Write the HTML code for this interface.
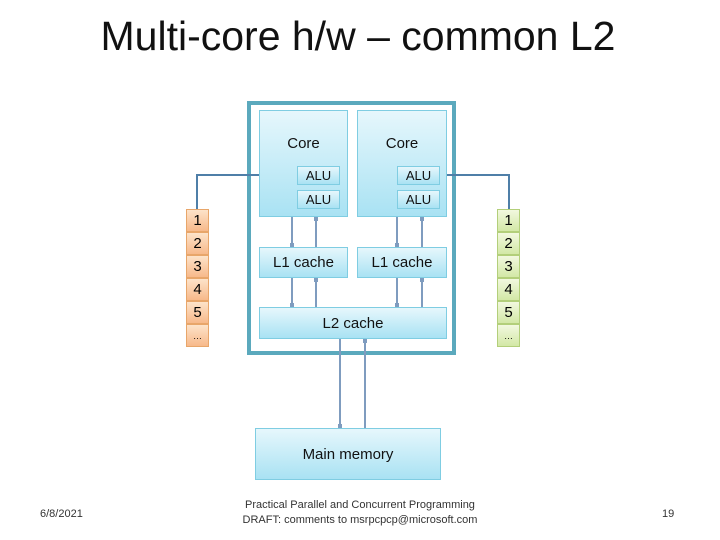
<!DOCTYPE html>
<html><head><meta charset="utf-8"><style>
body{margin:0;width:720px;height:540px;background:#fff;font-family:"Liberation Sans",sans-serif;position:relative;overflow:hidden}
.a{position:absolute}
.b{position:absolute;box-sizing:border-box;border:1px solid #7fcde2;background:linear-gradient(#e6f7fc,#a9e2f3);display:flex;align-items:center;justify-content:center;color:#111}
.c{position:absolute;box-sizing:border-box;width:23px;height:23px;display:flex;align-items:center;justify-content:center;font-size:15px}
.o{border:1px solid #e8a66a;background:linear-gradient(#fde3c9,#f7b98a)}
.g{border:1px solid #b3cf7a;background:linear-gradient(#f2f8df,#d3e8a6)}
</style></head><body>
<div class="a" style="left:0;top:13px;width:716px;text-align:center;font-size:41px;color:#111">Multi-core h/w – common L2</div>
<div class="a" style="left:247px;top:101px;width:209px;height:254px;box-sizing:border-box;border:4px solid #5ba9bd"></div>
<div class="b" style="left:259px;top:110px;width:89px;height:107px;align-items:flex-start;padding-top:24px;font-size:15px">Core</div>
<div class="b" style="left:357px;top:110px;width:90px;height:107px;align-items:flex-start;padding-top:24px;font-size:15px">Core</div>
<div class="b" style="left:297px;top:166px;width:43px;height:19px;font-size:13px">ALU</div>
<div class="b" style="left:297px;top:190px;width:43px;height:19px;font-size:13px">ALU</div>
<div class="b" style="left:397px;top:166px;width:43px;height:19px;font-size:13px">ALU</div>
<div class="b" style="left:397px;top:190px;width:43px;height:19px;font-size:13px">ALU</div>
<div class="b" style="left:259px;top:247px;width:89px;height:31px;font-size:15px">L1 cache</div>
<div class="b" style="left:357px;top:247px;width:90px;height:31px;font-size:15px">L1 cache</div>
<div class="b" style="left:259px;top:307px;width:188px;height:32px;font-size:15px">L2 cache</div>
<div class="b" style="left:255px;top:428px;width:186px;height:52px;font-size:15px">Main memory</div>
<svg class="a" style="left:0;top:0" width="720" height="540">
<g stroke="#7f9cbf" stroke-width="2" fill="none">
<path d="M292 217V247M316 217V247M397 217V247M422 217V247M292 278V307M316 278V307M397 278V307M422 278V307M340 339V428M365 339V428"/>
</g>
<g fill="#7f9cbf">
<rect x="290" y="243" width="4" height="4"/><rect x="314" y="217" width="4" height="4"/>
<rect x="395" y="243" width="4" height="4"/><rect x="420" y="217" width="4" height="4"/>
<rect x="290" y="303" width="4" height="4"/><rect x="314" y="278" width="4" height="4"/>
<rect x="395" y="303" width="4" height="4"/><rect x="420" y="278" width="4" height="4"/>
<rect x="338" y="424" width="4" height="4"/><rect x="363" y="339" width="4" height="4"/>
</g>
<g stroke="#4f7fa8" stroke-width="2" fill="none"><path d="M197 209V175H259M509 209V175H447"/></g>
</svg>
<div class="c o" style="left:186px;top:209px">1</div>
<div class="c o" style="left:186px;top:232px">2</div>
<div class="c o" style="left:186px;top:255px">3</div>
<div class="c o" style="left:186px;top:278px">4</div>
<div class="c o" style="left:186px;top:301px">5</div>
<div class="c o" style="left:186px;top:324px;font-size:9px">…</div>
<div class="c g" style="left:497px;top:209px">1</div>
<div class="c g" style="left:497px;top:232px">2</div>
<div class="c g" style="left:497px;top:255px">3</div>
<div class="c g" style="left:497px;top:278px">4</div>
<div class="c g" style="left:497px;top:301px">5</div>
<div class="c g" style="left:497px;top:324px;font-size:9px">…</div>
<div class="a" style="left:40px;top:508px;font-size:11px;color:#333">6/8/2021</div>
<div class="a" style="left:230px;top:498px;width:260px;text-align:center;font-size:11px;color:#333;line-height:15px">Practical Parallel and Concurrent Programming<br>DRAFT: comments to msrpcpcp@microsoft.com</div>
<div class="a" style="left:662px;top:508px;font-size:11px;color:#333">19</div>
</body></html>
